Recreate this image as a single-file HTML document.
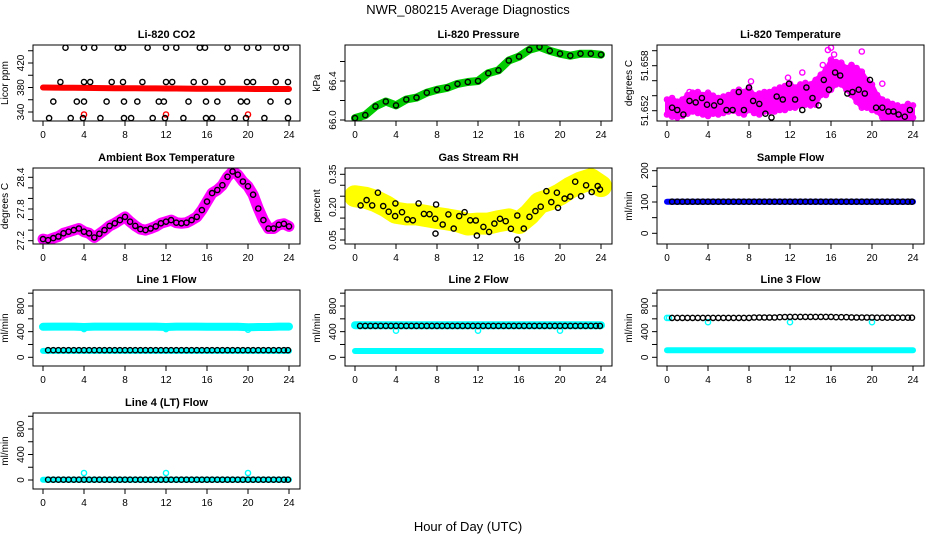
<!DOCTYPE html>
<html><head><meta charset="utf-8">
<style>
html,body{margin:0;padding:0;background:#fff;}
svg{display:block;font-family:"Liberation Sans",sans-serif;}
</style></head>
<body>
<svg id="chart" width="936" height="540" viewBox="0 0 936 540" xmlns="http://www.w3.org/2000/svg">
<rect width="936" height="540" fill="#fff"/>
<text x="468" y="14" text-anchor="middle" font-size="13">NWR_080215  Average Diagnostics</text>
<text x="468" y="531" text-anchor="middle" font-size="13">Hour of Day (UTC)</text>
</svg>
<script>
const hourly=[0,1,2,3,4,5,6,7,8,9,10,11,12,13,14,15,16,17,18,19,20,21,22,23,24];
const halfHours=[0,0.5,1,1.5,2,2.5,3,3.5,4,4.5,5,5.5,6,6.5,7,7.5,8,8.5,9,9.5,10,10.5,11,11.5,12,12.5,13,13.5,14,14.5,15,15.5,16,16.5,17,17.5,18,18.5,19,19.5,20,20.5,21,21.5,22,22.5,23,23.5,24];
const blackHours=[0.5,1,1.5,2,2.5,3,3.5,4,4.5,5,5.5,6,6.5,7,7.5,8,8.5,9,9.5,10,10.5,11,11.5,12,12.5,13,13.5,14,14.5,15,15.5,16,16.5,17,17.5,18,18.5,19,19.5,20,20.5,21,21.5,22,22.5,23,23.5,23.9];
const xTicks=[0,4,8,12,16,20,24];

// CO2
const co2Red=[380,379.8,379.6,379.5,379.3,379.2,379,378.9,378.8,378.7,378.6,378.5,378.4,378.3,378.2,378.1,378,377.9,377.8,377.8,377.7,377.6,377.6,377.5,377.5];
const co2RedOutHours=[4,12,20];
const co2RedOutVals=[336,336,336];
const co2BlackHours=[2.2,4,5,7.3,7.8,10.2,12,13,15.3,15.8,18,19.9,21,22.8,23.7, 1.7,4,4.6,6.7,7.8,9.7,12,12.6,14.7,15.8,17.5,19.9,20.5,22.7,23.9, 1,3.3,4,6.2,7.9,9.2,11.3,11.8,14.2,15.9,17,19.3,19.9,22.2,23.9, 0.6,2.7,3.9,5.6,7.9,8.6,10.7,11.9,13.7,15.9,16.5,18.7,19.8,21.6,23.9];
const co2BlackVals=[445,445,445,445,445,445,445,445,445,445,445,445,445,445,445, 389,389,389,389,389,389,389,389,389,389,389,389,389,389,389, 357,357,357,357,357,357,357,357,357,357,357,357,357,357,357, 330,330,330,330,330,330,330,330,330,330,330,330,330,330,330];
const co2Ticks=[340,360,380,400,420,440];
const co2Labels=["340","","380","","420",""];

// Pressure
const pressVals=[66.02,66.05,66.14,66.19,66.15,66.21,66.23,66.28,66.31,66.33,66.37,66.39,66.40,66.48,66.51,66.61,66.65,66.72,66.75,66.71,66.68,66.66,66.68,66.68,66.67];
const pressTicks=[66.0,66.2,66.4,66.6];
const pressLabels=["66.0","","66.4",""];

// Li-820 temperature
const tempHi=[51.6535,51.6537,51.6532,51.6535,51.6541,51.6544,51.6545,51.6541,51.6544,51.6540,51.6537,51.6539,51.6541,51.6545,51.6548,51.6545,51.6551,51.6541,51.6543,51.6545,51.6545,51.6548,51.6551,51.6553,51.6556,51.6551,51.6555,51.6557,51.6555,51.6561,51.6568,51.6575,51.6588,51.6585,51.6584,51.6577,51.6581,51.6577,51.6572,51.6561,51.6555,51.6541,51.6535,51.6532,51.6529,51.6527,51.6525,51.6529,51.6527];
const tempLo=[51.6515,51.6512,51.6511,51.6513,51.6516,51.6519,51.6517,51.6515,51.6513,51.6516,51.6515,51.6517,51.6519,51.6520,51.6517,51.6515,51.6521,51.6517,51.6515,51.6519,51.6519,51.6519,51.6521,51.6521,51.6524,51.6524,51.6527,51.6528,51.6527,51.6528,51.6541,51.6541,51.6548,51.6555,51.6555,51.6548,51.6541,51.6532,51.6524,51.6524,51.6521,51.6519,51.6511,51.6508,51.6508,51.6507,51.6507,51.6507,51.6511];
const tempOutHours=[15.7,16,16.3,19,13.2,15.2,11.8,8.2,2.2,18,21,16.6,17.2];
const tempOutVals=[51.6601,51.6604,51.6595,51.6599,51.6571,51.6581,51.6564,51.6559,51.6545,51.6581,51.6556,51.6577,51.6573];
const tempBlackHours=[0.5,1,1.6,2.2,2.8,3.4,3.9,4.6,5.2,5.8,6.4,7,7.5,8,8.4,9,9.6,10.2,10.7,11.3,11.9,12.5,13.2,13.6,14.2,14.8,15.3,15.8,16.4,16.9,17.6,18.1,18.7,19.3,19.8,20.4,21,21.6,22.1,22.6,23.2,23.7];
const tempBlackVals=[51.6524,51.6521,51.6515,51.6533,51.6531,51.6537,51.6528,51.6527,51.6532,51.6521,51.6521,51.6545,51.6521,51.6551,51.6533,51.6529,51.6516,51.6511,51.6539,51.6535,51.6556,51.6535,51.6521,51.6551,51.6537,51.6527,51.6561,51.6548,51.6571,51.6567,51.6543,51.6545,51.6548,51.6543,51.6561,51.6524,51.6524,51.6519,51.6519,51.6515,51.6512,51.6521];
const tempTicks=[51.652,51.654,51.656,51.658,51.660];
const tempLabels=["51.652","","","51.658",""];

// Ambient box temperature
const ambVals=[27.23,27.21,27.25,27.28,27.34,27.37,27.40,27.43,27.37,27.34,27.26,27.33,27.40,27.48,27.53,27.59,27.65,27.56,27.48,27.42,27.40,27.43,27.47,27.53,27.56,27.59,27.54,27.53,27.54,27.59,27.65,27.78,27.94,28.10,28.16,28.25,28.41,28.51,28.45,28.32,28.23,28.07,27.81,27.59,27.43,27.43,27.50,27.52,27.47];
const ambTicks=[27.2,27.4,27.6,27.8,28.0,28.2,28.4];
const ambLabels=["27.2","","","27.8","","","28.4"];

// Gas stream RH
const rhYellow=[0.250,0.243,0.228,0.205,0.174,0.167,0.167,0.159,0.151,0.144,0.136,0.121,0.125,0.125,0.136,0.144,0.128,0.167,0.220,0.235,0.258,0.289,0.312,0.327,0.296];
const rhBlackHours=[0.55,1.13,1.68,2.23,2.75,3.29,3.94,3.91,4.59,5.10,5.65,6.20,6.72,7.27,7.82,7.91,7.85,8.56,9.11,9.63,10.17,10.69,11.24,11.79,11.89,12.53,13.08,13.60,14.15,14.70,15.21,15.83,15.83,16.47,17.02,17.60,18.12,18.67,19.15,19.70,19.80,20.45,21.0,21.48,22.06,22.55,23.09,23.68,23.90];
const rhBlackVals=[0.208,0.232,0.208,0.266,0.205,0.179,0.217,0.159,0.177,0.144,0.140,0.217,0.169,0.168,0.147,0.212,0.079,0.121,0.167,0.102,0.159,0.177,0.140,0.139,0.070,0.110,0.087,0.125,0.147,0.136,0.101,0.162,0.052,0.102,0.156,0.182,0.202,0.273,0.223,0.266,0.197,0.239,0.248,0.316,0.250,0.300,0.269,0.296,0.281];
const rhTicks=[0.05,0.10,0.15,0.20,0.25,0.30,0.35];
const rhLabels=["0.05","","","0.20","","","0.35"];

// Sample flow
const sampleBlue=[101,101,101,101,101,101,101,101,101,101,101,101,101,101,101,101,101,101,101,101,101,101,101,101,101];
const sampleBlack=[101,101,101,101,101,101,101,101,101,101,101,101,101,101,101,101,101,101,101,101,101,101,101,101,101,101,101,101,101,101,101,101,101,101,101,101,101,101,101,101,101,101,101,101,101,101,101,101];
const sampleTicks=[0,50,100,150,200];
const sampleLabels=["0","","100","","200"];

// Line flows
const flowTicks=[0,200,400,600,800,1000];
const flowLabels=["0","","400","","800",""];
const line1CyanHi=[475,478,478,478,472,478,478,478,478,478,478,478,472,478,478,478,475,475,475,475,470,472,472,478,478];
const line1CyanLo=[100,100,100,100,100,100,100,100,100,100,100,100,100,100,100,100,100,100,100,100,100,100,100,100,100];
const line1OutHours=[4,12,20];
const line1OutVals=[440,440,430];
const line1Black=[110,110,110,110,110,110,110,110,110,110,110,110,110,110,110,110,110,110,110,110,110,110,110,110,110,110,110,110,110,110,110,110,110,110,110,110,110,110,110,110,110,110,110,110,110,110,110,110];
const line2CyanHi=[500,500,500,500,500,500,500,500,500,500,500,500,500,500,500,500,500,500,500,500,500,500,500,500,500];
const line2CyanLo=[98,98,98,98,98,98,98,98,98,98,98,98,98,98,98,98,98,98,98,98,98,98,98,98,98];
const line2OutHours=[4,12,20];
const line2OutVals=[415,415,415];
const line2Black=[490,490,490,490,490,490,490,490,490,490,490,490,490,490,490,490,490,490,490,490,490,490,490,490,490,490,490,490,490,490,490,490,490,490,490,490,490,490,490,490,490,490,490,490,490,490,490,490];
const line3CyanLo=[110,110,110,110,110,110,110,110,110,110,110,110,110,110,110,110,110,110,110,110,110,110,110,110,110];
const line3OutHours=[0,0.2,4,12,20];
const line3OutVals=[615,615,547,547,547];
const line3Black=[615,615,615,615,615,615,615,615,615,615,615,615,615,615,615,615,620,620,620,620,620,625,628,630,630,630,630,630,630,630,630,630,625,625,625,622,620,620,620,620,618,618,618,618,618,618,618,618];
const line4Cyan=[5,5,5,5,5,5,5,5,5,5,5,5,5,5,5,5,5,5,5,5,5,5,5,5,5];
const line4OutHours=[4,12,20];
const line4OutVals=[110,110,110];
const line4Black=[5,5,5,5,5,5,5,5,5,5,5,5,5,5,5,5,5,5,5,5,5,5,5,5,5,5,5,5,5,5,5,5,5,5,5,5,5,5,5,5,5,5,5,5,5,5,5,5];

const NS="http://www.w3.org/2000/svg";
const svg=document.getElementById('chart');
const colLeft=[33,345,657], rowTop=[45,168,290,413], W=267, H=76;

function mk(tag,attrs,parent){const e=document.createElementNS(NS,tag);for(const k in attrs)e.setAttribute(k,attrs[k]);parent.appendChild(e);return e;}

function panel(key,col,row,title,ylab,ref,ticks,labels){
  const L=colLeft[col],T=rowTop[row];
  const g=mk('g',{},svg);
  
  
  const k=(ref[3]-ref[1])/(ref[0]-ref[2]); // px per unit (positive)
  const x=h=>L+10+h*10.25;
  const y=v=>T+ref[1]-(v-ref[0])*k;
  const plot=mk('g',{},g);
  
  
  const tt=mk('text',{x:L+W/2,y:T-7,'text-anchor':'middle','font-size':11,'font-weight':'bold'},g);
  
  
  tt.textContent=title;
  const yl=mk('text',{transform:`translate(${L-25},${T+H/2}) rotate(-90)`,'text-anchor':'middle','font-size':10},g);
  
  
  yl.textContent=ylab;
  const xa=mk('g',{},g);
  
  
  xTicks.forEach(t=>{
    const ln=mk('line',{x1:x(t),x2:x(t),y1:T+H,y2:T+H+5,stroke:'#000'},xa);
    
    
    const tx=mk('text',{x:x(t),y:T+H+17,'text-anchor':'middle','font-size':10},xa);
    
    
    tx.textContent=t;
  });
  const ya=mk('g',{},g);
  
  
  ticks.forEach((t,i)=>{
    const yy=y(t); if(yy<T-0.5||yy>T+H+0.5)return;
    const ln=mk('line',{x1:L-5,x2:L,y1:yy,y2:yy,stroke:'#000'},ya);
    
    
    if(labels[i]){
      const tx=mk('text',{transform:`translate(${L-9},${yy}) rotate(-90)`,'text-anchor':'middle','font-size':10},ya);
      
      
      tx.textContent=labels[i];
    }
  });
  const box=mk('rect',{x:L,y:T,width:W,height:H,fill:'none',stroke:'#000'},g);
  
  
  const clip=mk('clipPath',{id:'clip-'+key},g);
  mk('rect',{x:L,y:T,width:W,height:H},clip);
  plot.setAttribute('clip-path','url(#clip-'+key+')');
  return {plot,x,y,key};
}
function band(p,hours,vals,color,w,name){
  const d=hours.map((h,i)=>(i?'L':'M')+p.x(h).toFixed(1)+','+p.y(vals[i]).toFixed(1)).join('');
  const e=mk('path',{d,fill:'none',stroke:color,'stroke-width':w,'stroke-linejoin':'round','stroke-linecap':'round'},p.plot);
  
  
}
function area(p,hours,hi,lo,color,name){
  let d=hours.map((h,i)=>(i?'L':'M')+p.x(h).toFixed(1)+','+p.y(hi[i]).toFixed(1)).join('');
  for(let i=hours.length-1;i>=0;i--)d+='L'+p.x(hours[i]).toFixed(1)+','+p.y(lo[i]).toFixed(1);
  const e=mk('path',{d:d+'Z',fill:color,stroke:color,'stroke-width':4,'stroke-linejoin':'round'},p.plot);
  
  
}
function pts(p,hours,vals,color,name,r,sw){
  const g=mk('g',{},p.plot);
  
  
  hours.forEach((h,i)=>{
    const c=mk('circle',{cx:p.x(h).toFixed(1),cy:p.y(vals[i]).toFixed(1),r:r||2.6,fill:'none',stroke:color,'stroke-width':sw||1.4},g);
    
    
  });
}

// Row 1
let p=panel('co2',0,0,'Li-820 CO2','Licor ppm',[340,67,420,18],co2Ticks,co2Labels);
band(p,hourly,co2Red,'#ff0000',6,'co2-red-series');
pts(p,co2RedOutHours,co2RedOutVals,'#ff0000','co2-red-outliers');
pts(p,co2BlackHours,co2BlackVals,'#000','co2-average-points');

p=panel('pressure',1,0,'Li-820 Pressure','kPa',[66.0,75,66.4,36],pressTicks,pressLabels);
band(p,hourly,pressVals,'#00cc00',8,'pressure-green-series');
pts(p,hourly,pressVals,'#000','pressure-average-points');

p=panel('li820-temp',2,0,'Li-820 Temperature','degrees C',[51.652,65.7,51.658,20.7],tempTicks,tempLabels);
area(p,halfHours,tempHi,tempLo,'#ff00ff','temp-magenta-band');
pts(p,halfHours,tempHi,'#ff00ff','temp-magenta-upper');
pts(p,halfHours,tempLo,'#ff00ff','temp-magenta-lower');
pts(p,tempOutHours,tempOutVals,'#ff00ff','temp-magenta-outliers');
pts(p,tempBlackHours,tempBlackVals,'#000','temp-average-points');

// Row 2
p=panel('ambient',0,1,'Ambient Box Temperature','degrees C',[27.2,72.7,28.4,9.3],ambTicks,ambLabels);
band(p,halfHours,ambVals,'#ff00ff',11,'ambient-magenta-series');
pts(p,halfHours,ambVals,'#000','ambient-average-points');

p=panel('rh',1,1,'Gas Stream RH','percent',[0.05,72,0.35,6.3],rhTicks,rhLabels);
band(p,hourly,rhYellow,'#ffff00',22,'rh-yellow-series');
pts(p,rhBlackHours,rhBlackVals,'#000','rh-average-points');

p=panel('sample-flow',2,1,'Sample Flow','ml/min',[0,65.3,200,2.7],sampleTicks,sampleLabels);
band(p,hourly,sampleBlue,'#0000ff',6,'sample-blue-series');
pts(p,blackHours,sampleBlack,'#000','sample-average-points');

// Row 3
p=panel('line1',0,2,'Line 1 Flow','ml/min',[0,67.3,800,16],flowTicks,flowLabels);
band(p,hourly,line1CyanHi,'#00ffff',8,'line1-cyan-high');
band(p,hourly,line1CyanLo,'#00ffff',6,'line1-cyan-low');
pts(p,line1OutHours,line1OutVals,'#00ffff','line1-cyan-outliers');
pts(p,blackHours,line1Black,'#000','line1-average-points');

p=panel('line2',1,2,'Line 2 Flow','ml/min',[0,67.3,800,16],flowTicks,flowLabels);
band(p,hourly,line2CyanHi,'#00ffff',8,'line2-cyan-high');
band(p,hourly,line2CyanLo,'#00ffff',6,'line2-cyan-low');
pts(p,line2OutHours,line2OutVals,'#00ffff','line2-cyan-outliers');
pts(p,blackHours,line2Black,'#000','line2-average-points');

p=panel('line3',2,2,'Line 3 Flow','ml/min',[0,67.3,800,16],flowTicks,flowLabels);
band(p,hourly,line3CyanLo,'#00ffff',6,'line3-cyan-low');
pts(p,line3OutHours,line3OutVals,'#00ffff','line3-cyan-outliers');
pts(p,blackHours,line3Black,'#000','line3-average-points');

// Row 4
p=panel('line4',0,3,'Line 4 (LT) Flow','ml/min',[0,67,800,16],flowTicks,flowLabels);
band(p,hourly,line4Cyan,'#00ffff',6,'line4-cyan-series');
pts(p,line4OutHours,line4OutVals,'#00ffff','line4-cyan-outliers');
pts(p,blackHours,line4Black,'#000','line4-average-points');
</script>
</body></html>
